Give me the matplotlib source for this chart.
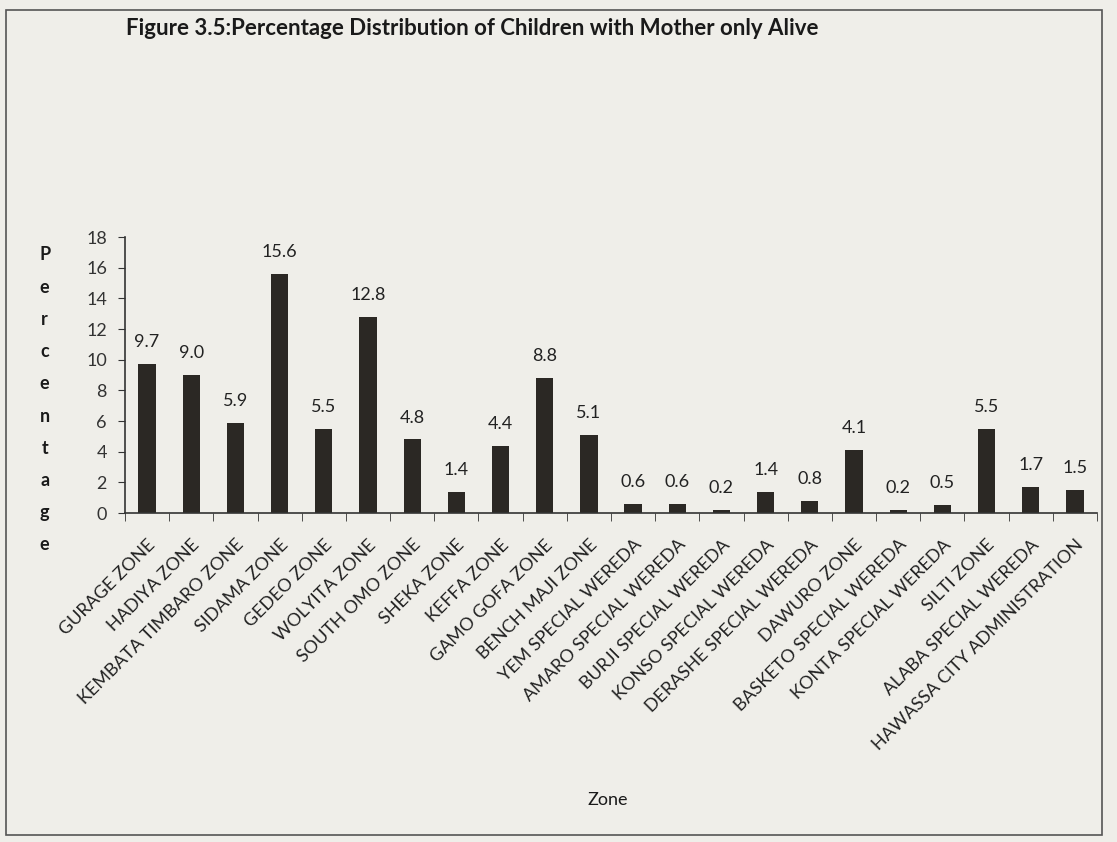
import numpy as np
import matplotlib.pyplot as plt
from matplotlib.patches import Rectangle

# Zones and percentage of children with mother only alive
zones = ['GURAGE ZONE', 'HADIYA ZONE', 'KEMBATA TIMBARO ZONE', 'SIDAMA ZONE',
         'GEDEO ZONE', 'WOLYITA ZONE', 'SOUTH OMO ZONE', 'SHEKA ZONE',
         'KEFFA ZONE', 'GAMO GOFA ZONE', 'BENCH MAJI ZONE', 'YEM SPECIAL WEREDA',
         'AMARO SPECIAL WEREDA', 'BURJI SPECIAL WEREDA', 'KONSO SPECIAL WEREDA',
         'DERASHE SPECIAL WEREDA', 'DAWURO ZONE', 'BASKETO SPECIAL WEREDA',
         'KONTA SPECIAL WEREDA', 'SILTI ZONE', 'ALABA SPECIAL WEREDA',
         'HAWASSA CITY ADMINISTRATION']
percent = [9.7, 9.0, 5.9, 15.6, 5.5, 12.8, 4.8, 1.4, 4.4, 8.8, 5.1, 0.6,
           0.6, 0.2, 1.4, 0.8, 4.1, 0.2, 0.5, 5.5, 1.7, 1.5]
y_ticks = [0, 2, 4, 6, 8, 10, 12, 14, 16, 18]

plt.rcParams['font.family'] = ['Lato', 'DejaVu Sans']
paper = '#efeee9'
ink = '#2b2824'

fig = plt.figure(figsize=(11.17, 8.42), dpi=100, facecolor=paper)
ax = fig.add_axes([0.1119, 0.3907, 0.8702, 0.3278])
ax.set_facecolor(paper)

x = np.arange(len(zones))
ax.bar(x, percent, width=0.39, color=ink)
for xi, v in zip(x, percent):
    ax.annotate(f'{v:.1f}', (xi, v), xytext=(0, 10), textcoords='offset points',
                ha='center', va='bottom', fontsize=13, color='#222222')

ax.set_xlim(-0.5, len(zones) - 0.5)
ax.set_ylim(0, 18)
ax.set_yticks(y_ticks)
ax.tick_params(axis='y', labelsize=13, length=5, direction='out', colors='#333333', pad=8)
ax.set_xticks(x)
ax.set_xticklabels(zones, rotation=45, ha='right', rotation_mode='anchor', fontsize=13, color='#222222')
ax.set_xticks(np.arange(len(zones) + 1) - 0.5, minor=True)
ax.tick_params(axis='x', which='major', length=0, pad=17)
ax.tick_params(axis='x', which='minor', length=6, direction='out', color='#333333')
for s in ['top', 'right']:
    ax.spines[s].set_visible(False)
for s in ['left', 'bottom']:
    ax.spines[s].set_color('#333333')
    ax.spines[s].set_linewidth(1.2)

# title and axis labels
fig.text(0.423, 0.966, 'Figure 3.5:Percentage Distribution of Children with Mother only Alive',
         ha='center', va='center', fontsize=16, fontweight='bold', color='#1a1a1a')
for i, ch in enumerate('Percentage'):
    fig.text(0.040, 1 - (255 + 32.2 * i) / 842, ch, ha='center', va='center',
             fontsize=13, fontweight='bold', color='#1a1a1a')
fig.text(0.544, 1 - 800 / 842, 'Zone', ha='center', va='center', fontsize=13, color='#1a1a1a')

# outer frame of the scanned figure
fig.patches.append(Rectangle((0.005, 0.008), 0.982, 0.98, transform=fig.transFigure,
                             fill=False, edgecolor='#555555', linewidth=1.2))

fig.savefig('out.png', dpi=100, facecolor=paper)
